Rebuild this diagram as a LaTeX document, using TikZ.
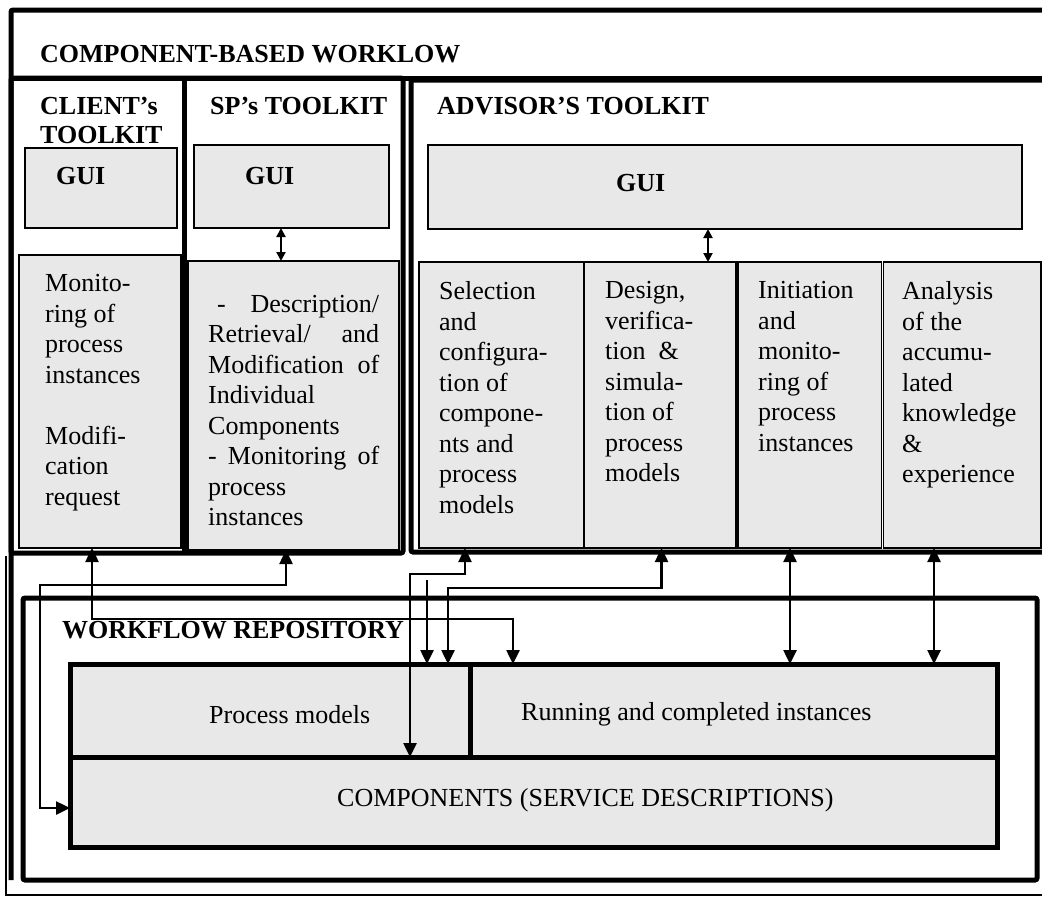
\documentclass[tikz,border=0pt]{standalone}
\usepackage{fontspec}
\setmainfont{Liberation Serif}
\usetikzlibrary{arrows.meta,positioning}

\definecolor{boxgray}{HTML}{E8E8E8}

\newcommand{\bodyfont}{\fontsize{26}{30.5}\selectfont}
\newcommand{\headfont}{\fontsize{26}{30}\selectfont\bfseries}

\tikzset{
  frame/.style={line width=5pt, rounded corners=2pt},
  panel/.style={draw, line width=1.5pt, fill=boxgray, inner sep=0pt, outer sep=0pt},
  store/.style={draw, line width=5pt, fill=boxgray, inner sep=0pt, outer sep=0pt},
  txt/.style={font=\bodyfont, inner sep=0pt, align=left, anchor=north west,
    execute at begin node=\strut},
  head/.style={font=\headfont, inner sep=0pt, anchor=base west},
  plain/.style={font=\bodyfont, inner sep=0pt, anchor=base west},
  link/.style={line width=2.5pt,
    {Triangle[length=14pt,width=13pt]}-{Triangle[length=14pt,width=13pt]}},
  feed/.style={line width=2.5pt, -{Triangle[length=14pt,width=13pt]}},
  guilink/.style={line width=2pt,
    {Triangle[length=9pt,width=9pt]}-{Triangle[length=9pt,width=9pt]}}
}

\begin{document}
\begin{tikzpicture}[x=1pt, y=-1pt]
  \clip (0,0) rectangle (1042,897);

  %------------------------------------------------
  % Frames
  %------------------------------------------------
  \draw[line width=1.5pt] (6,556) -- (6,895) -- (1050,895);
  \draw[frame] (11,880) -- (11,10) -- (1050,10);
  \draw[frame] (11,78) -- (1050,78);
  \draw[frame] (11,78) rectangle (403,553);
  \draw[frame] (184,78) -- (184,553);
  \draw[frame] (411,80) rectangle (1050,552);
  \draw[frame] (23,598) rectangle (1037,880);

  \node[head] (title) at (40,62) {COMPONENT-BASED WORKLOW};

  %------------------------------------------------
  % Toolkits
  %------------------------------------------------
  \node[head] (clientttl) at (40,114) {CLIENT’s};
  \node[head] (clientttl2) at (40,143) {TOOLKIT};
  \node[head] (spttl) at (210,114) {SP’s TOOLKIT};
  \node[head] (advttl) at (437,114) {ADVISOR’S TOOLKIT};

  \node[panel, minimum width=152pt, minimum height=80pt] (clientgui) at (101,188) {};
  \node[panel, minimum width=195pt, minimum height=83pt] (spgui) at (291.5,186.5) {};
  \node[panel, minimum width=594pt, minimum height=84pt] (advgui) at (725,187) {};
  \node[head] (clientguilbl) at (56,184) {GUI};
  \node[head] (spguilbl) at (245,184) {GUI};
  \node[head] (advguilbl) at (616,191) {GUI};

  \node[panel, minimum width=162pt, minimum height=293pt] (clientbody) at (100,401.5) {};
  \node[panel, minimum width=211pt, minimum height=289pt] (spbody) at (293.5,405.5) {};

  \node[panel, minimum width=165pt, minimum height=286pt] (sel) at (501.5,405) {};
  \node[panel, minimum width=152pt, minimum height=286pt] (des) at (660,405) {};
  \node[panel, minimum width=143.5pt, minimum height=286pt] (ini) at (809.75,405) {};
  \node[panel, minimum width=157.5pt, minimum height=286pt] (ana) at (962.25,405) {};

  \node[txt] (clienttxt) at (45,274.5)
    {Monito-\\ring of\\process\\instances\\[30.5pt]Modifi-\\cation\\request};
  \node[txt, text width=171pt] (sptxt) at (208,290.65)
    {\hspace*{9pt}-\hfill Description/\\
     Retrieval/\hfill and\\
     Modification\hfill of\\
     Individual\\
     Components\\
     -\hfill Monitoring\hfill of\\
     process\\
     instances};
  \node[txt] (seltxt) at (439,281.5)
    {Selection\\and\\configura-\\tion of\\compone-\\nts and\\process\\models};
  \node[txt] (destxt) at (605,281.5)
    {Design,\\verifica-\\tion\hspace{13pt}\&\\simula-\\tion of\\process\\models};
  \node[txt] (initxt) at (758,281.5)
    {Initiation\\and\\monito-\\ring of\\process\\instances};
  \node[txt] (anatxt) at (902,281.5)
    {Analysis\\of the\\accumu-\\lated\\knowledge\\\&\\experience};

  \draw[guilink] ([xshift=-10.5pt]spgui.south) -- ([xshift=-12.5pt]spbody.north);
  \draw[guilink] ([xshift=-17pt]advgui.south) -- ([xshift=48pt]des.north);

  %------------------------------------------------
  % Repository
  %------------------------------------------------
  \node[head] (repottl) at (62,638) {WORKFLOW REPOSITORY};

  \node[store, minimum width=927pt, minimum height=90pt] (comp) at (533.5,802) {};
  \node[store, minimum width=400pt, minimum height=93pt] (pm) at (270,710.5) {};
  \node[store, minimum width=527pt, minimum height=93pt] (run) at (733.5,710.5) {};

  \node[plain] (pmlbl) at (209,723) {Process models};
  \node[plain] (runlbl) at (521,720) {Running and completed instances};
  \node[plain] (complbl) at (337,806) {COMPONENTS (SERVICE DESCRIPTIONS)};

  %------------------------------------------------
  % Connectors
  %------------------------------------------------
  \draw[link] ([xshift=-8pt]clientbody.south) -- ++(0,71) -| ([xshift=-220.5pt]run.north);
  \draw[link] ([xshift=-7.5pt]spbody.south) -- ++(0,35) -| (40,808) -- ([yshift=-6pt]comp.west);
  \draw[link] ([xshift=-36.5pt]sel.south) -- ++(0,26) -| ([xshift=-123.5pt]comp.north);
  \coordinate (selfork) at (427,580);
  \draw[feed] (selfork) -- (selfork |- pm.north);
  \draw[link] ([xshift=1.5pt]des.south) -- ++(0,40) -| ([xshift=178pt]pm.north);
  \draw[link] ([xshift=-19.75pt]ini.south) -- ([xshift=56.5pt]run.north);
  \draw[link] ([xshift=-28.25pt]ana.south) -- ([xshift=200.5pt]run.north);
\end{tikzpicture}
\end{document}
